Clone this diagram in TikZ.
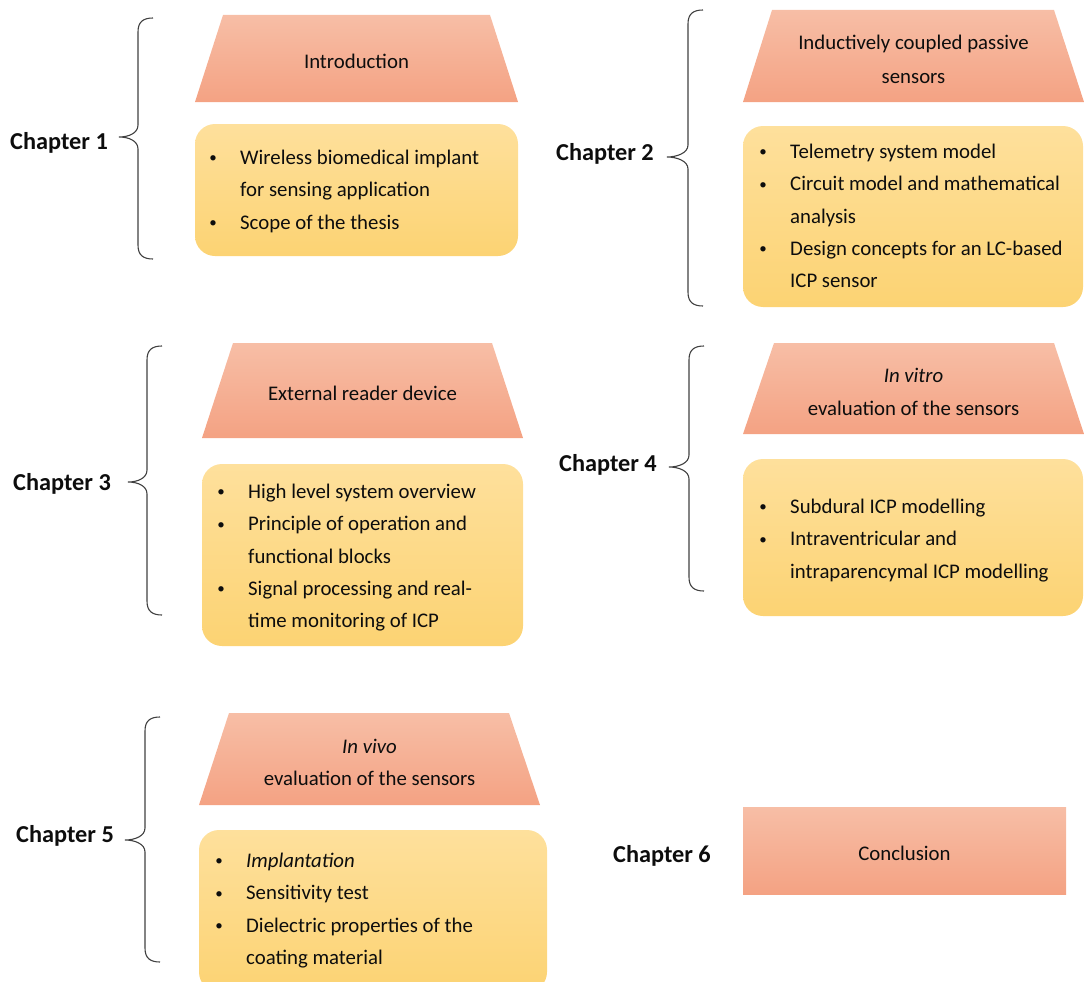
\documentclass[tikz,border=0pt]{standalone}
\usepackage{fontspec}
\setmainfont{Carlito}

\definecolor{trapTop}{HTML}{F7BEA6}
\definecolor{trapBot}{HTML}{F4A283}
\definecolor{boxTop}{HTML}{FEE09C}
\definecolor{boxBot}{HTML}{FCD373}
\definecolor{braceCol}{HTML}{404040}
\definecolor{ink}{HTML}{0D0D0D}

% bullet cell of a list row (a smaller, slightly raised dot)
\newcommand\itm{\makebox[54pt]{\raisebox{1.6pt}{\fontsize{15}{15}\selectfont\textbullet}}}

% left curly brace: vertical x, top y, bottom y, tip x, tip y
\newcommand\ChBrace[5]{%
  \draw[bracestyle] ({#1+15},#2) .. controls ({#1+5},#2) and (#1,{#2+4}) .. (#1,{#2+14})
    -- (#1,{#5-12}) .. controls (#1,{#5-4}) and ({#4+10},#5) .. (#4,#5)
    .. controls ({#4+10},#5) and (#1,{#5+4}) .. (#1,{#5+12})
    -- (#1,{#3-14}) .. controls (#1,{#3-4}) and ({#1+5},#3) .. ({#1+15},#3);}

\begin{document}
\begin{tikzpicture}[x=1pt,y=-1pt,
  trapfill/.style={top color=trapTop,bottom color=trapBot,draw=none},
  boxfill/.style={top color=boxTop,bottom color=boxBot,draw=none,rounded corners=20pt},
  bracestyle/.style={draw=braceCol,line width=1.1pt},
  chlabel/.style={font=\fontsize{24.3}{29}\selectfont\bfseries,text=ink,inner sep=0pt},
  title/.style={font=\fontsize{20.8}{33}\selectfont,text=ink,inner sep=0pt,anchor=base},
  items/.style={font=\fontsize{20.8}{32.3}\selectfont,text=ink,inner sep=0pt,anchor=base west}]
\useasboundingbox (0,0) rectangle (1084,982);
\clip (0,0) rectangle (1084,982);

% ---- Chapter 1
\shade[trapfill] (195,102) -- (223,15) -- (490,15) -- (518,102) -- cycle;
\node[title] (t1) at (356.5,68.5) {Introduction};
\shade[boxfill] (195,124) rectangle (518,256);
\node[items] (l1) at (186,164.5) {\begin{tabular}[t]{@{}l@{}l@{}}
  \itm & Wireless biomedical implant\\
       & for sensing application\\
  \itm & Scope of the thesis\end{tabular}};
\node[chlabel,anchor=base west] (c1) at (10,149) {Chapter 1};
\ChBrace{138}{18}{259}{119}{137}

% ---- Chapter 2
\shade[trapfill] (743,102) -- (772,10) -- (1054,10) -- (1084,102) -- cycle;
\node[title,font=\fontsize{20.8}{34}\selectfont] (t2) at (913.5,49.5)
  {\begin{tabular}[t]{@{}c@{}}Inductively coupled passive\\ sensors\end{tabular}};
\shade[boxfill] (743,126) rectangle (1083,307);
\node[items] (l2) at (736,158.5) {\begin{tabular}[t]{@{}l@{}l@{}}
  \itm & Telemetry system model\\
  \itm & Circuit model and mathematical\\
       & analysis\\
  \itm & Design concepts for an LC-based\\
       & ICP sensor\end{tabular}};
\node[chlabel,anchor=base east] (c2) at (654,160) {Chapter 2};
\ChBrace{688}{10}{306}{667}{157}

% ---- Chapter 3
\shade[trapfill] (202,438) -- (233,343) -- (492,343) -- (523,438) -- cycle;
\node[title] (t3) at (362.5,400.5) {External reader device};
\shade[boxfill] (202,464) rectangle (523,646);
\node[items] (l3) at (194,498.5) {\begin{tabular}[t]{@{}l@{}l@{}}
  \itm & High level system overview\\
  \itm & Principle of operation and\\
       & functional blocks\\
  \itm & Signal processing and real-\\
       & time monitoring of ICP\end{tabular}};
\node[chlabel,anchor=base west] (c3) at (13,490) {Chapter 3};
\ChBrace{147}{346}{615}{128}{482}

% ---- Chapter 4
\shade[trapfill] (743,434) -- (774,343) -- (1054,343) -- (1084,434) -- cycle;
\node[title] (t4) at (913.5,382.5)
  {\begin{tabular}[t]{@{}c@{}}\textit{In vitro}\\ evaluation of the sensors\end{tabular}};
\shade[boxfill] (743,459) rectangle (1083,616);
\node[items] (l4) at (736,513.5) {\begin{tabular}[t]{@{}l@{}l@{}}
  \itm & Subdural ICP modelling\\
  \itm & Intraventricular and\\
       & intraparencymal ICP modelling\end{tabular}};
\node[chlabel,anchor=base east] (c4) at (657,471) {Chapter 4};
\ChBrace{689}{346}{591}{669}{467}

% ---- Chapter 5
\shade[trapfill] (199,805) -- (229,713) -- (509,713) -- (540,805) -- cycle;
\node[title,font=\fontsize{20.8}{32}\selectfont] (t5) at (369.5,753.5)
  {\begin{tabular}[t]{@{}c@{}}\textit{In vivo}\\ evaluation of the sensors\end{tabular}};
\shade[boxfill] (199,830) rectangle (547,992);
\node[items] (l5) at (192,867.5) {\begin{tabular}[t]{@{}l@{}l@{}}
  \itm & \textit{Implantation}\\
  \itm & Sensitivity test\\
  \itm & Dielectric properties of the\\
       & coating material\end{tabular}};
\node[chlabel,anchor=base west] (c5) at (16,842) {Chapter 5};
\ChBrace{145}{717}{962}{125}{840}

% ---- Chapter 6
\shade[trapfill] (743,807) rectangle (1066,894);
\node[title] (t6) at (904.5,860.5) {Conclusion};
\node[chlabel,anchor=base east] (c6) at (711,862) {Chapter 6};
\end{tikzpicture}
\end{document}
